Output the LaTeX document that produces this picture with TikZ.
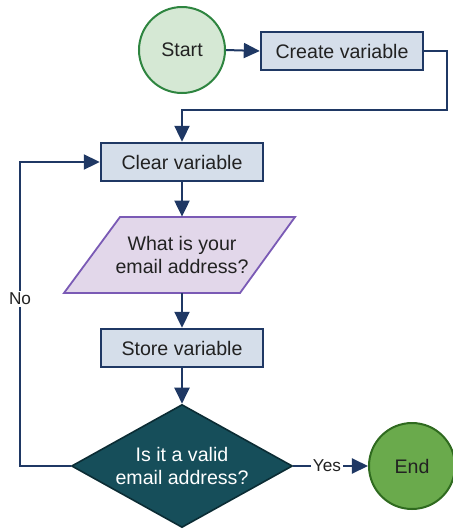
\documentclass[tikz,border=0pt]{standalone}
\usepackage{fontspec}
\setmainfont{Liberation Sans}
\usetikzlibrary{shapes.geometric,arrows.meta}
\definecolor{navy}{HTML}{1F3864}
\definecolor{boxfill}{HTML}{D5DEEA}
\definecolor{startfill}{HTML}{D5E8D4}
\definecolor{startline}{HTML}{2E8540}
\definecolor{endfill}{HTML}{6AAA4C}
\definecolor{endline}{HTML}{2F6A1F}
\definecolor{iofill}{HTML}{E2D7EA}
\definecolor{ioline}{HTML}{7A5AB5}
\definecolor{decfill}{HTML}{164E5A}
\definecolor{decline}{HTML}{0B2C34}
\definecolor{txt}{HTML}{222222}
\tikzset{
  every node/.style={font=\fontsize{9.8}{11.5}\selectfont, text=txt},
  procbox/.style={draw=navy, fill=boxfill, line width=1.2pt, minimum width=81pt, minimum height=19pt, inner sep=0pt},
  termstart/.style={circle, draw=startline, fill=startfill, line width=1pt, minimum size=43pt, inner sep=0pt},
  termend/.style={circle, draw=endline, fill=endfill, line width=1pt, minimum size=43pt, inner sep=0pt},
  decision/.style={diamond, draw=decline, fill=decfill, line width=0.8pt, aspect=1.8, minimum width=110.5pt, minimum height=61.5pt, inner sep=0pt, text=white, align=center},
  conn/.style={draw=navy, line width=1pt, -{Triangle[length=8pt,width=7.5pt]}},
  edgelabel/.style={fill=white, inner sep=1pt, font=\fontsize{8.6}{10}\selectfont}
}
\begin{document}
\begin{tikzpicture}[x=0.5pt, y=-0.5pt]
  \useasboundingbox (0,0) rectangle (453,532);

  % nodes
  \node[termstart] (start) at (182,50) {Start};
  \node[procbox] (create) at (342,51) {Create variable};
  \node[procbox] (clear) at (182,162) {Clear variable};

  % input parallelogram
  \draw[draw=ioline, fill=iofill, line width=0.9pt]
    (120,217) -- (295,217) -- (240,293) -- (64,293) -- cycle;
  \node[align=center, minimum height=38pt, minimum width=60pt, inner sep=0pt] (ask) at (182,255) {What is your\\email address?};

  \node[procbox] (store) at (182,348) {Store variable};
  \node[decision] (valid) at (182,466) {Is it a valid\\email address?};
  \node[termend] (finish) at (412,466) {End};

  \coordinate (turn) at (182,110);
  \coordinate (loopdown) at (20,466);
  \coordinate (loopup) at (20,162);

  % connectors
  \draw[conn] (start.east) -- (create.west);
  \draw[conn] (create.east) -- ++(23,0) |- (turn) -- (clear.north);
  \draw[conn] (clear.south) -- (ask.north);
  \draw[conn] (ask.south) -- (store.north);
  \draw[conn] (store.south) -- (valid.north);
  \draw[conn] (valid.west) -- (loopdown) -- node[edgelabel, pos=0.55] {No} (loopup) -- (clear.west);
  \draw[conn] (valid.east) -- node[edgelabel, pos=0.45] {Yes} (finish.west);
\end{tikzpicture}
\end{document}
